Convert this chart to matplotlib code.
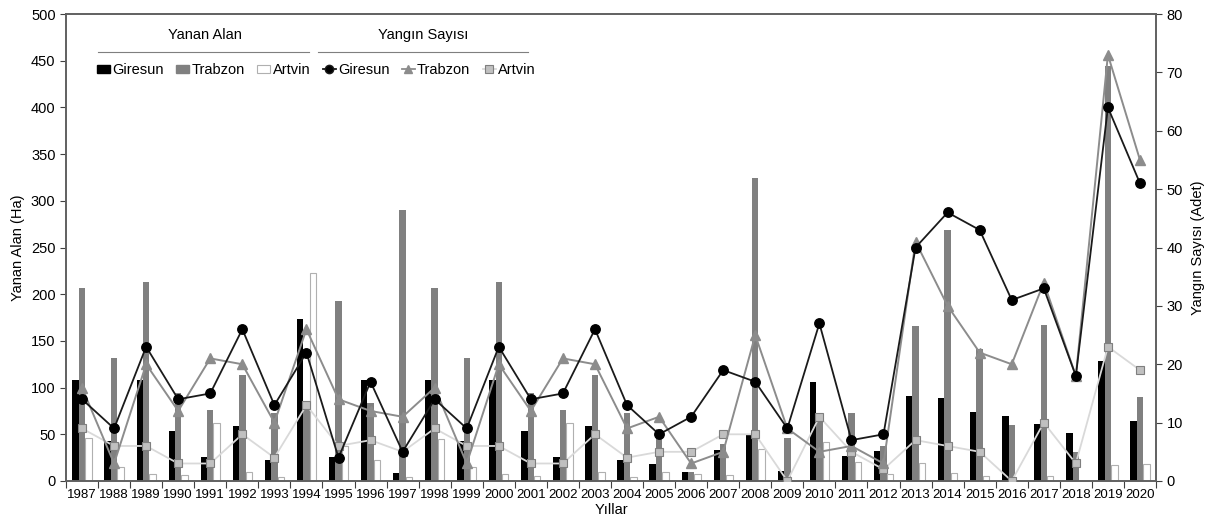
import matplotlib
matplotlib.use("Agg")
import matplotlib.pyplot as plt
import numpy as np
from matplotlib.lines import Line2D
from matplotlib.patches import Patch

years = [str(y) for y in range(1987, 2021)]

giresun_area = [108, 43, 108, 54, 26, 59, 22, 173, 26, 108, 9, 108, 43, 108, 54, 26, 59, 22,
                18, 10, 33, 50, 11, 106, 27, 32, 91, 89, 74, 70, 61, 51, 128, 64]
trabzon_area = [207, 132, 213, 94, 76, 114, 73, 80, 193, 83, 290, 207, 132, 213, 94, 76, 114, 73,
                56, 10, 40, 324, 46, 65, 73, 38, 166, 269, 141, 60, 167, 31, 444, 90]
artvin_area = [46, 15, 7, 6, 62, 10, 4, 223, 38, 22, 4, 45, 15, 7, 5, 62, 10, 4,
               10, 7, 6, 34, 0, 42, 20, 7, 19, 9, 5, 0, 5, 0.5, 17, 18]

giresun_count = [14, 9, 23, 14, 15, 26, 13, 22, 4, 17, 5, 14, 9, 23, 14, 15, 26, 13,
                 8, 11, 19, 17, 9, 27, 7, 8, 40, 46, 43, 31, 33, 18, 64, 51]
trabzon_count = [16, 3, 20, 12, 21, 20, 10, 26, 14, 12, 11, 16, 3, 20, 12, 21, 20, 9,
                 11, 3, 5, 25, 9, 5, 6, 3, 41, 30, 22, 20, 34, 18, 73, 55]
artvin_count = [9, 6, 6, 3, 3, 8, 4, 13, 6, 7, 5, 9, 6, 6, 3, 3, 8, 4,
                5, 5, 8, 8, 0, 11, 5, 2, 7, 6, 5, 0, 10, 3, 23, 19]

plt.rcParams['font.family'] = ['Liberation Sans', 'DejaVu Sans']

W, H = 1215, 522
fig = plt.figure(figsize=(W / 100, H / 100), dpi=100)
ax = fig.add_axes([66 / W, 41 / H, 1090 / W, 467 / H])
ax2 = ax.twinx()

x = np.arange(len(years))
bw = 0.2
c_black = '#000000'
c_gray = '#808080'
c_tri = '#8c8c8c'
c_light = '#d9d9d9'

ax.bar(x - bw, giresun_area, bw, color=c_black, zorder=2)
ax.bar(x, trabzon_area, bw, color=c_gray, zorder=2)
ax.bar(x + bw, artvin_area, bw, color='white', edgecolor='#b0b0b0', linewidth=0.8, zorder=2)

ax2.plot(x, artvin_count, color=c_light, lw=1.3, marker='s', ms=6,
         mfc='#c0c0c0', mec='#7f7f7f', mew=0.8, zorder=3)
ax2.plot(x, trabzon_count, color=c_tri, lw=1.4, marker='^', ms=6.5,
         mfc=c_tri, mec=c_tri, zorder=4)
ax2.plot(x, giresun_count, color='#1a1a1a', lw=1.3, marker='o', ms=6.8,
         mfc='black', mec='black', zorder=5)

ax.set_xlim(-0.5, len(years) - 0.5)
ax.set_ylim(0, 500)
ax2.set_ylim(0, 80)
ax.set_yticks(np.arange(0, 501, 50))
ax2.set_yticks(np.arange(0, 81, 10))
ax.set_xticks(x)
ax.set_xticklabels(years)
ax.set_xticks(np.arange(-0.5, len(years), 1), minor=True)
ax.tick_params(axis='x', which='major', length=0, labelsize=9.5, pad=6)
ax.tick_params(axis='x', which='minor', length=5, direction='out', width=0.8, color='#404040')
ax.tick_params(axis='y', length=4, direction='out', width=0.8, color='#404040', labelsize=10.5)
ax2.tick_params(axis='y', length=4, direction='out', width=0.8, color='#404040', labelsize=10.5)

for a in (ax, ax2):
    for s in a.spines.values():
        s.set_color('#606060')
        s.set_linewidth(1.2)

ax.set_xlabel('Yıllar', fontsize=10.5, labelpad=1)
ax.set_ylabel('Yanan Alan (Ha)', fontsize=10.5, labelpad=4)
ax2.set_ylabel('Yangın Sayısı (Adet)', fontsize=10.5, labelpad=6)

handles = [
    Patch(facecolor=c_black, edgecolor=c_black),
    Patch(facecolor=c_gray, edgecolor=c_gray),
    Patch(facecolor='white', edgecolor='#b0b0b0', linewidth=0.8),
    Line2D([], [], color='#1a1a1a', lw=1.3, marker='o', ms=6, mfc='black'),
    Line2D([], [], color=c_tri, lw=1.3, marker='^', ms=6, mfc=c_tri, mec=c_tri),
    Line2D([], [], color=c_light, lw=1.3, marker='s', ms=5.5, mfc='#c0c0c0', mec='#7f7f7f', mew=0.8),
]
labels = ['Giresun', 'Trabzon', 'Artvin', 'Giresun', 'Trabzon', 'Artvin']
leg = fig.legend(handles, labels, ncol=6, loc='center left',
                 bbox_to_anchor=(97 / W, 1 - 70 / H), frameon=False, fontsize=10.5,
                 handlelength=0.9, handleheight=0.5, handletextpad=0.15,
                 columnspacing=0.85, borderpad=0, borderaxespad=0)

fig.text(205 / W, 1 - 35 / H, 'Yanan Alan', ha='center', va='center', fontsize=10.5)
fig.text(423 / W, 1 - 35 / H, 'Yangın Sayısı', ha='center', va='center', fontsize=10.5)
fig.add_artist(Line2D([98 / W, 309 / W], [1 - 52 / H] * 2, color='#7f7f7f', lw=0.8))
fig.add_artist(Line2D([318 / W, 528 / W], [1 - 52 / H] * 2, color='#7f7f7f', lw=0.8))

fig.savefig('out.png', dpi=100)
